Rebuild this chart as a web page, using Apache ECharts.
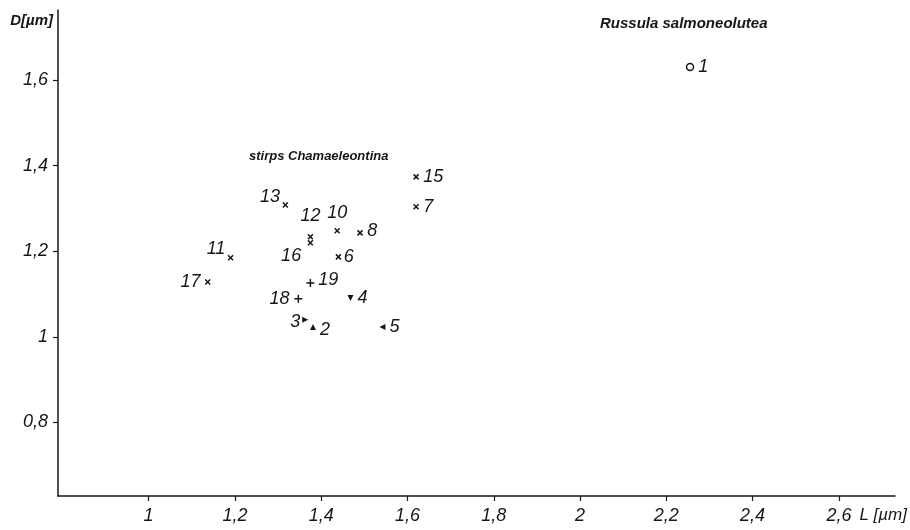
<!DOCTYPE html>
<html>
<head>
<meta charset="utf-8">
<script src="https://cdn.jsdelivr.net/npm/echarts@6/dist/echarts.min.js"></script>
<style>
  html, body { margin: 0; padding: 0; background: #fff; }
  #chart { width: 910px; height: 530px; }
</style>
</head>
<body>
<div id="chart"></div>
<script>
// point numbers, length L and diameter D (µm), marker kind
var ids   = [1, 2, 3, 4, 5, 6, 7, 8, 10, 11, 12, 13, 15, 16, 17, 18, 19];
var lenL  = [2.255, 1.381, 1.363, 1.468, 1.542, 1.44, 1.62, 1.49, 1.437, 1.19, 1.375, 1.317, 1.62, 1.375, 1.137, 1.347, 1.375];
var diaD  = [1.631, 1.023, 1.040, 1.091, 1.023, 1.187, 1.304, 1.243, 1.248, 1.185, 1.234, 1.308, 1.374, 1.220, 1.128, 1.089, 1.126];
var kinds = ['circle', 'up', 'right', 'down', 'left', 'cross', 'cross', 'cross', 'cross', 'cross', 'cross', 'cross', 'cross', 'cross', 'cross', 'plus', 'plus'];

var xTicks = [1, 1.2, 1.4, 1.6, 1.8, 2, 2.2, 2.4, 2.6];
var yTicks = [0.8, 1, 1.2, 1.4, 1.6];

var ink = '#161616';
var font = '"Liberation Sans", Arial, sans-serif';

// where each number sits next to its marker
var labelPlace = {
  1: ['right', [0, 0]], 2: ['right', [0, 3]], 3: ['left', [2, 2]], 4: ['right', [0, 0]],
  5: ['right', [0, 0]], 6: ['right', [-2, 0]], 7: ['right', [0, 0]], 8: ['right', [0, -2]],
  10: ['top', [0, -2]], 11: ['left', [2, -9]], 12: ['top', [0, -4]], 13: ['left', [2, -8]],
  15: ['right', [0, 0]], 16: ['left', [-2, 13]], 17: ['left', [0, 0]], 18: ['left', [0, 0]],
  19: ['right', [-1, -3]]
};

var symbols = {
  circle: { symbol: 'circle', size: 7, rotate: 0 },
  up:     { symbol: 'triangle', size: 6, rotate: 0 },
  right:  { symbol: 'triangle', size: 6, rotate: -90 },
  down:   { symbol: 'triangle', size: 6, rotate: 180 },
  left:   { symbol: 'triangle', size: 6, rotate: 90 },
  cross:  { symbol: 'path://M0,0L10,10M10,0L0,10', size: 5, rotate: 0 },
  plus:   { symbol: 'path://M5,0L5,10M0,5L10,5', size: 8, rotate: 0 }
};

function fmt(v) {
  return String(Math.round(v * 10) / 10).replace('.', ',');
}

var series = Object.keys(symbols).map(function (k) {
  var s = symbols[k];
  var data = [];
  for (var i = 0; i < ids.length; i++) {
    if (kinds[i] !== k) continue;
    var p = labelPlace[ids[i]];
    data.push({
      value: [lenL[i], diaD[i]],
      name: String(ids[i]),
      label: { position: p[0], offset: p[1] }
    });
  }
  var stroked = (k === 'cross' || k === 'plus' || k === 'circle');
  return {
    type: 'scatter',
    name: k,
    symbol: s.symbol,
    symbolSize: s.size,
    symbolRotate: s.rotate,
    data: data,
    itemStyle: stroked
      ? { color: k === 'circle' ? '#fff' : ink, borderColor: ink, borderWidth: 1.5, opacity: 1 }
      : { color: ink, opacity: 1 },
    label: {
      show: true,
      formatter: '{b}',
      color: ink,
      fontFamily: font,
      fontStyle: 'italic',
      fontSize: 18,
      distance: 4
    },
    emphasis: { disabled: true }
  };
});

var chart = echarts.init(document.getElementById('chart'));
chart.setOption({
  backgroundColor: '#fff',
  animation: false,
  grid: { left: 58, right: 13, top: 10, bottom: 34 },
  xAxis: {
    type: 'value',
    min: 0.79,
    max: 2.73,
    name: 'L [µm]',
    nameLocation: 'end',
    nameGap: 12,
    nameTextStyle: {
      color: ink, fontFamily: font, fontStyle: 'italic', fontSize: 17,
      align: 'right', verticalAlign: 'top', padding: [11, 0, 0, 0]
    },
    splitLine: { show: false },
    axisLine: { show: true, lineStyle: { color: ink, width: 1.5 } },
    axisTick: { show: true, customValues: xTicks, length: 5, lineStyle: { color: ink, width: 1.2 } },
    axisLabel: {
      customValues: xTicks, formatter: fmt, margin: 11,
      color: ink, fontFamily: font, fontStyle: 'italic', fontSize: 18
    }
  },
  yAxis: {
    type: 'value',
    min: 0.628,
    max: 1.764,
    name: 'D[µm]',
    nameLocation: 'end',
    nameGap: -3,
    nameTextStyle: {
      color: ink, fontFamily: font, fontStyle: 'italic', fontWeight: 'bold', fontSize: 15,
      align: 'right', verticalAlign: 'top', padding: [0, 5, 0, 0]
    },
    splitLine: { show: false },
    axisLine: { show: true, lineStyle: { color: ink, width: 1.5 } },
    axisTick: { show: true, customValues: yTicks, length: 5, lineStyle: { color: ink, width: 1.2 } },
    axisLabel: {
      customValues: yTicks, formatter: fmt, margin: 10,
      color: ink, fontFamily: font, fontStyle: 'italic', fontSize: 18
    }
  },
  graphic: [
    {
      type: 'text', left: 600, top: 16,
      style: { text: 'Russula salmoneolutea', fill: ink, font: 'italic bold 15px ' + font }
    },
    {
      type: 'text', left: 249, top: 150,
      style: { text: 'stirps Chamaeleontina', fill: ink, font: 'italic bold 13px ' + font }
    }
  ],
  series: series
});
</script>
</body>
</html>
